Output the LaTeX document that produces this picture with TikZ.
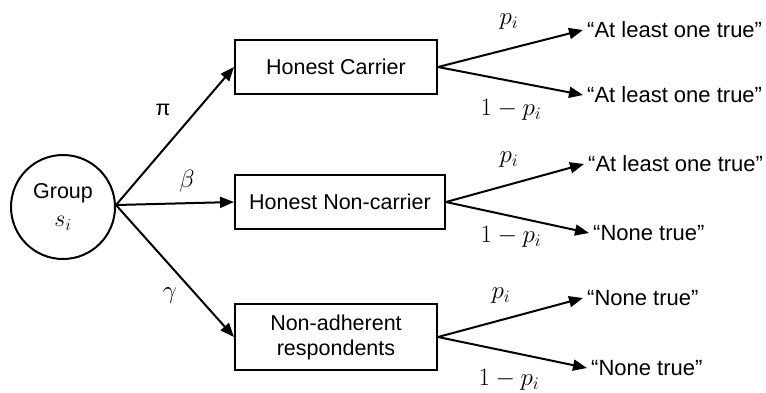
\RequirePackage{fix-cm}
\documentclass[tikz,border=0pt]{standalone}
\usepackage[no-math]{fontspec}
\setmainfont{Liberation Sans}
\usetikzlibrary{arrows.meta}

\tikzset{
  txt/.style={font=\fontsize{21.5}{25}\selectfont},
  grp/.style={txt, circle, draw, line width=2pt, minimum size=104pt, inner sep=0pt, align=center},
  resp/.style={txt, draw, line width=2pt, minimum height=54pt, inner sep=0pt, align=center},
  answer/.style={font=\fontsize{22}{26}\selectfont, anchor=west, inner xsep=4pt, inner ysep=0pt},
  lbl/.style={font=\fontsize{25}{28}\selectfont, inner sep=0pt},
  arr/.style={line width=2pt, -{Triangle[length=14pt,width=11pt]}},
}

\begin{document}
\begin{tikzpicture}[x=1pt,y=-1pt]
  \useasboundingbox (0,0) rectangle (766,392);

  % population group
  \node[grp] (G) at (63,207) {Group\\[3pt]{\fontsize{24}{26}\selectfont$s_i$}};

  % respondent types
  \node[resp, minimum width=202pt] (A) at (336,67) {Honest Carrier};
  \node[resp, minimum width=210pt] (B) at (340,202) {Honest Non-carrier};
  \node[resp, minimum width=202pt, minimum height=66pt] (C) at (336,337)
       {Non-adherent\\respondents};

  % reported answers
  \node[answer] (a1) at (583,30)  {“At least one true”};
  \node[answer] (a2) at (583,95)  {“At least one true”};
  \node[answer] (b1) at (584,164) {“At least one true”};
  \node[answer] (b2) at (589,233) {“None true”};
  \node[answer] (c1) at (583,298) {“None true”};
  \node[answer] (c2) at (587,368) {“None true”};

  % first-stage branches
  \draw[arr] (G.east |- 0,205) coordinate (gout) -- (A.west);
  \draw[arr] (gout) -- (B.west);
  \draw[arr] (gout) -- (C.west);

  % second-stage branches
  \draw[arr] (A.east) -- (a1.west);
  \draw[arr] (A.east) -- (a2.west);
  \draw[arr] (B.east) -- (b1.west);
  \draw[arr] (B.east) -- (b2.west);
  \draw[arr] (C.east) -- (c1.west);
  \draw[arr] (C.east) -- (c2.west);

  % branch probabilities
  \node[txt, inner sep=0pt] (lpi) at (163,110) {π};
  \node[lbl] (lbeta) at (187,181) {$\beta$};
  \node[lbl] (lgam) at (170,296) {$\gamma$};

  \node[lbl] (pa1) at (509,22)  {$p_i$};
  \node[lbl] (pa2) at (511,110) {$1-p_i$};
  \node[lbl] (pb1) at (509,160) {$p_i$};
  \node[lbl] (pb2) at (511,237) {$1-p_i$};
  \node[lbl] (pc1) at (501,296) {$p_i$};
  \node[lbl] (pc2) at (509,380) {$1-p_i$};
\end{tikzpicture}
\end{document}
